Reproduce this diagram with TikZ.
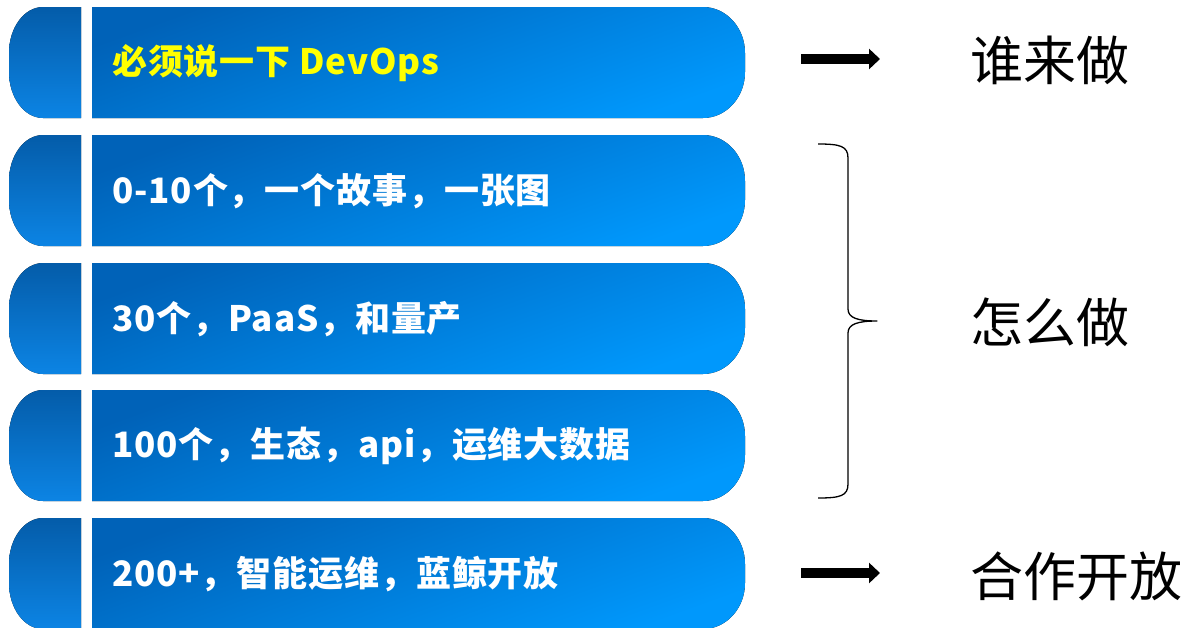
\documentclass[tikz,border=0pt]{standalone}
\usepackage{fontspec}
\usetikzlibrary{arrows.meta}
\newfontfamily\cjk{Noto Sans CJK SC}
\newfontfamily\cjkwide{Noto Sans CJK SC}[LetterSpace=2.5]
\definecolor{capL1}{HTML}{045CA9}
\definecolor{capL2}{HTML}{0C84E4}
\definecolor{bodyA}{HTML}{0062B8}
\definecolor{bodyB}{HTML}{0098FC}
\definecolor{hiyellow}{HTML}{FFFF00}
\tikzset{
  capshade/.style={draw=none, top color=capL1, bottom color=capL2},
  bodyshade/.style={draw=none, top color=bodyA, bottom color=bodyB, shading angle=20},
  bartext/.style={anchor=west, inner sep=0pt, text=white, font=\cjkwide\bfseries\fontsize{35}{40}\selectfont},
  sidetext/.style={anchor=west, inner sep=0pt, text=black, font=\cjk\fontsize{53}{60}\selectfont},
  bigarrow/.style={line width=10pt, -{Triangle[width=20pt,length=11pt]}},
  bracepath/.style={line width=1.3pt, line join=round}
}
% one bar: #1 = top edge, #2 = node name, #3 = extra text style, #4 = text
\newcommand\bluebar[4]{%
  \fill[capshade] (81,#1) -- (43,#1)
    .. controls (24.2,#1) and (9,{#1+20.6}) .. (9,{#1+46})
    -- (9,{#1+65})
    .. controls (9,{#1+90.4}) and (24.2,{#1+111}) .. (43,{#1+111})
    -- (81,{#1+111}) -- cycle;
  \fill[bodyshade] (92,#1) -- (703,#1)
    .. controls (726.2,#1) and (745,{#1+20.6}) .. (745,{#1+46})
    -- (745,{#1+65})
    .. controls (745,{#1+90.4}) and (726.2,{#1+111}) .. (703,{#1+111})
    -- (92,{#1+111}) -- cycle;
  \node[bartext,#3] (#2) at (112,{#1+56}) {#4};
}
\begin{document}
\begin{tikzpicture}[x=1pt,y=-1pt]
\useasboundingbox (0,0) rectangle (1187,627);
\clip (0,0) rectangle (1187,627);

\bluebar{7}{t1}{text=hiyellow}{必须说一下 DevOps}
\bluebar{135}{t2}{}{0-10个，一个故事，一张图}
\bluebar{263}{t3}{}{30个，PaaS，和量产}
\bluebar{390}{t4}{}{100个，生态，api，运维大数据}
\bluebar{518}{t5}{}{200+，智能运维，蓝鲸开放}

% arrows to the labels on the right
\coordinate (a1s) at (801,59);
\coordinate (a1e) at (880,59);
\coordinate (a2s) at (801,573);
\coordinate (a2e) at (880,573);
\draw[bigarrow] (a1s) -- (a1e);
\draw[bigarrow] (a2s) -- (a2e);

% brace grouping the three middle bars
\draw[bracepath] (818,144) .. controls (840,144) and (848,146) .. (848,158)
  -- (848,309) .. controls (848,318) and (858,321) .. (877,321)
  .. controls (858,321) and (848,324) .. (848,333)
  -- (848,484) .. controls (848,496) and (840,498) .. (818,498);

\node[sidetext] (s1) at (970,60) {谁来做};
\node[sidetext] (s2) at (970,322) {怎么做};
\node[sidetext] (s3) at (970,576) {合作开放};
\end{tikzpicture}
\end{document}
